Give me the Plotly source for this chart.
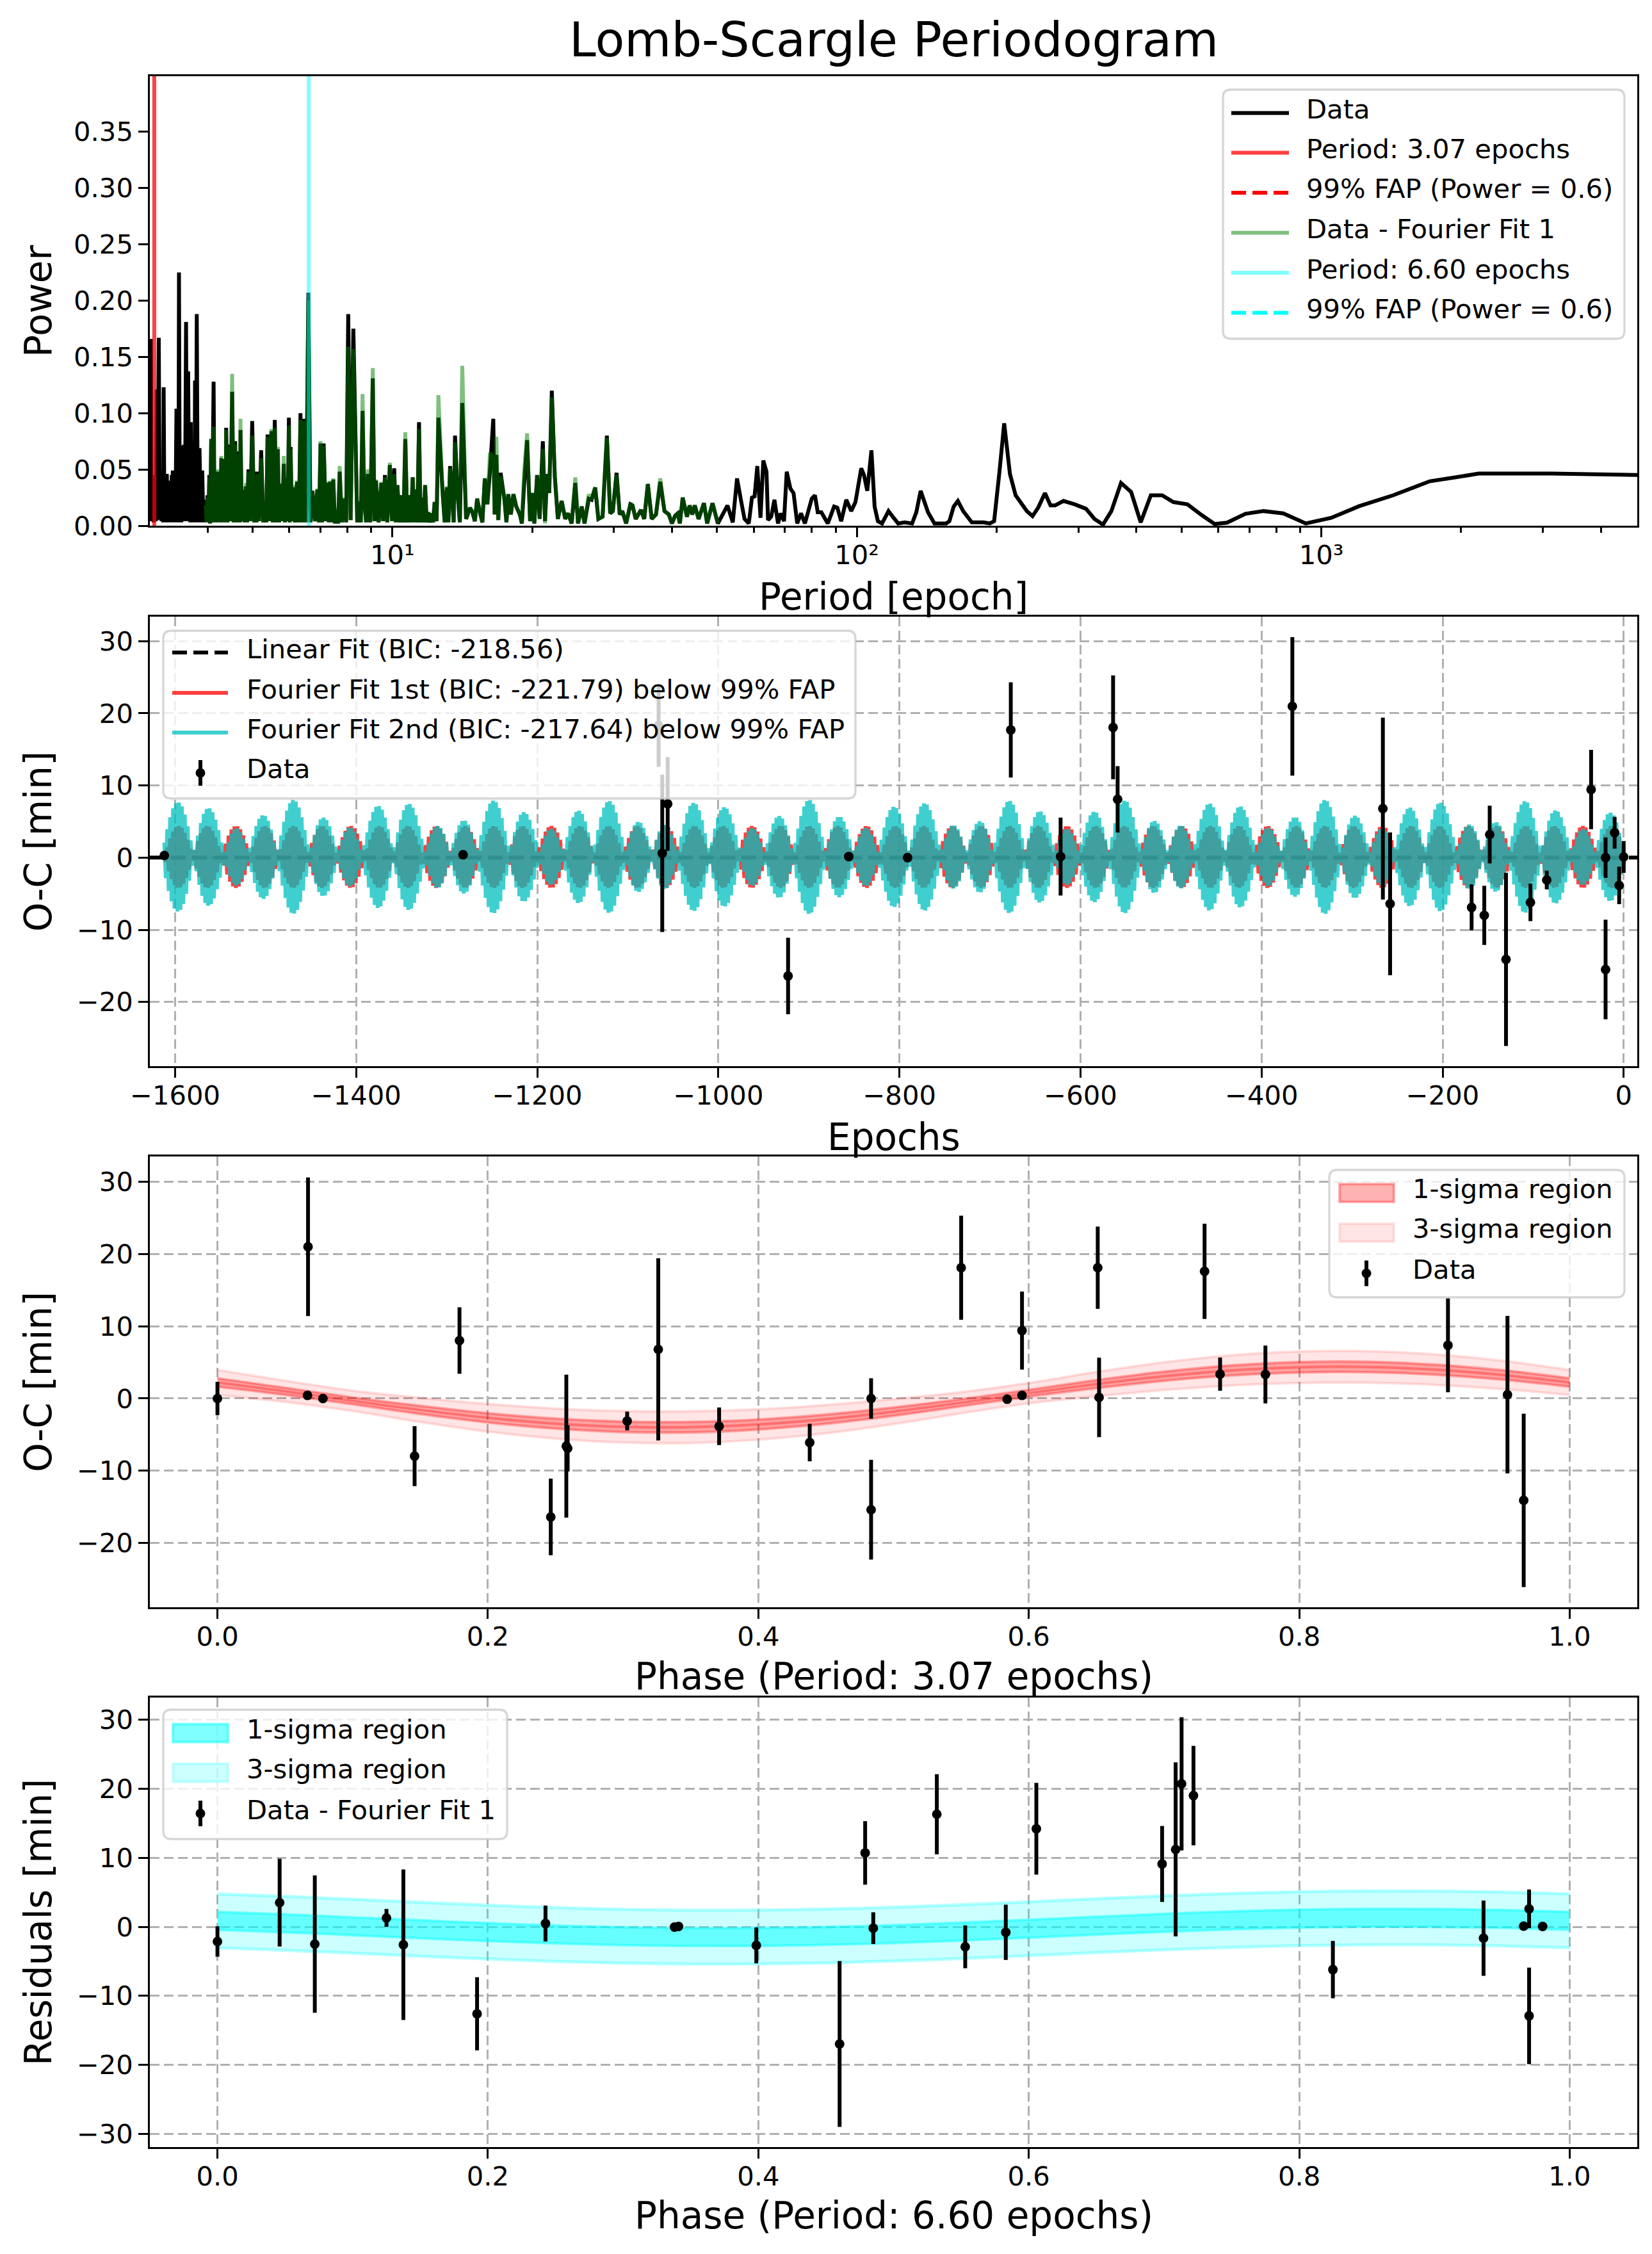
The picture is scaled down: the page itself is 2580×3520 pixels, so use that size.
import numpy as np
import plotly.graph_objects as go

# ---------------------------------------------------------------- data
# Panel 1: Lomb-Scargle periodogram of the O-C data (black, "Data")
ls_period_a = [3.004, 3.010, 3.020, 3.030, 3.045, 3.061, 3.080, 3.095, 3.107, 3.120,
               3.140, 3.155, 3.170, 3.183, 3.200, 3.210, 3.217, 3.230, 3.245, 3.255,
               3.268, 3.280, 3.295, 3.305, 3.320, 3.335, 3.350, 3.358, 3.366, 3.380,
               3.395, 3.410, 3.428, 3.440, 3.452, 3.462, 3.471, 3.485, 3.500, 3.512,
               3.527, 3.540, 3.557, 3.575, 3.595, 3.612, 3.633, 3.650, 3.665, 3.672,
               3.680, 3.695, 3.711, 3.725, 3.743, 3.750, 3.758, 3.775, 3.791, 3.810,
               3.825, 3.833, 3.843, 3.870, 3.880, 3.888, 3.896, 3.915, 3.934, 3.950]
ls_power_a = [0.050, 0.004, 0.166, 0.010, 0.040, 0.003, 0.045, 0.004, 0.121, 0.005,
              0.167, 0.006, 0.050, 0.004, 0.045, 0.003, 0.123, 0.004, 0.040, 0.003,
              0.046, 0.004, 0.038, 0.003, 0.040, 0.004, 0.045, 0.003, 0.049, 0.004,
              0.042, 0.003, 0.104, 0.004, 0.050, 0.003, 0.225, 0.004, 0.060, 0.003,
              0.071, 0.004, 0.072, 0.004, 0.181, 0.004, 0.137, 0.004, 0.065, 0.003,
              0.092, 0.004, 0.030, 0.003, 0.048, 0.004, 0.129, 0.003, 0.188, 0.004,
              0.050, 0.003, 0.069, 0.004, 0.040, 0.003, 0.049, 0.004, 0.023, 0.003]

# periods shared by both periodograms (Data and Data - Fourier Fit 1)
shared_period = [3.963, 3.980, 3.997, 4.015, 4.035, 4.050, 4.073, 4.090, 4.121, 4.140,
                 4.160, 4.180, 4.205, 4.225, 4.250, 4.265, 4.281, 4.300, 4.326, 4.345,
                 4.365, 4.375, 4.386, 4.415, 4.452, 4.480, 4.518, 4.550, 4.586, 4.605,
                 4.634, 4.655, 4.680, 4.695, 4.709, 4.740, 4.784, 4.810, 4.840, 4.865,
                 4.897, 4.940, 4.990, 5.040, 5.080, 5.095, 5.113, 5.160, 5.217, 5.270,
                 5.318, 5.350, 5.385, 5.430, 5.489, 5.530, 5.582, 5.620, 5.666, 5.700,
                 5.738, 5.790, 5.836, 5.870, 5.910, 5.950, 5.986, 6.010, 6.036, 6.075,
                 6.113, 6.170, 6.231, 6.290, 6.339, 6.400, 6.454, 6.520, 6.592, 6.660,
                 6.726, 6.810, 6.892, 6.950, 7.002, 7.055, 7.112, 7.190, 7.264, 7.300,
                 7.342, 7.400, 7.459, 7.520, 7.579, 7.640, 7.700, 7.780, 7.865, 7.950,
                 8.033, 8.130, 8.240, 8.337, 8.400, 8.471, 8.550, 8.624, 8.698, 8.780,
                 8.856, 8.960, 9.073, 9.150, 9.218, 9.340, 9.465, 9.550, 9.636, 9.750,
                 9.874, 9.980, 10.09, 10.17, 10.25, 10.36, 10.47, 10.56, 10.66, 10.76,
                 10.86, 10.96, 11.06, 11.13, 11.21, 11.31, 11.41, 11.50, 11.61, 11.68,
                 11.76, 11.85, 11.95, 12.04, 12.14, 12.23, 12.33, 12.45, 12.56, 12.82,
                 12.96, 13.10, 13.20, 13.31, 13.45, 13.55, 13.64, 13.81, 13.97, 14.14,
                 14.41, 14.69, 14.87, 15.05, 15.22, 15.43, 15.62, 15.81, 16.01, 16.22,
                 16.49, 16.60, 16.74, 16.90, 17.10, 17.43, 17.60, 17.76, 17.99, 18.22,
                 18.48, 18.81, 19.00, 19.21, 19.50, 19.79, 20.04, 20.21, 20.49, 20.75,
                 21.08, 21.31, 21.53, 21.76, 22.04, 22.37, 22.71, 23.14, 23.56, 23.89,
                 24.32, 24.76, 25.10, 25.56, 25.92, 26.47, 26.84, 27.33, 27.76, 28.35,
                 28.96, 29.43, 29.83, 30.38, 30.86, 31.26, 31.86, 32.54, 32.88, 33.41,
                 34.30, 34.85, 35.48, 36.16, 36.94, 37.73, 38.53, 39.36, 39.99, 40.63,
                 41.15, 41.59, 42.17, 43.07, 43.65, 44.21, 44.78, 45.63, 46.86, 47.61,
                 48.89, 50.20]
ls_power_b = [0.020, 0.003, 0.027, 0.003, 0.045, 0.002, 0.077, 0.003, 0.128, 0.003,
              0.035, 0.003, 0.048, 0.004, 0.040, 0.003, 0.060, 0.004, 0.059, 0.003,
              0.030, 0.003, 0.087, 0.003, 0.072, 0.004, 0.119, 0.003, 0.075, 0.003,
              0.066, 0.004, 0.035, 0.003, 0.085, 0.004, 0.032, 0.003, 0.035, 0.003,
              0.050, 0.004, 0.093, 0.003, 0.030, 0.003, 0.048, 0.004, 0.067, 0.003,
              0.018, 0.003, 0.081, 0.004, 0.084, 0.003, 0.094, 0.003, 0.068, 0.003,
              0.037, 0.004, 0.055, 0.003, 0.042, 0.004, 0.096, 0.003, 0.070, 0.004,
              0.034, 0.003, 0.039, 0.003, 0.100, 0.003, 0.095, 0.003, 0.207, 0.003,
              0.031, 0.004, 0.032, 0.003, 0.073, 0.003, 0.073, 0.004, 0.038, 0.003,
              0.039, 0.003, 0.041, 0.002, 0.014, 0.002, 0.048, 0.003, 0.024, 0.003,
              0.188, 0.005, 0.175, 0.070, 0.003, 0.021, 0.003, 0.102, 0.021, 0.003,
              0.046, 0.003, 0.131, 0.004, 0.040, 0.003, 0.038, 0.004, 0.045, 0.003,
              0.054, 0.004, 0.051, 0.003, 0.036, 0.003, 0.027, 0.003, 0.077, 0.003,
              0.027, 0.003, 0.043, 0.003, 0.032, 0.003, 0.092, 0.003, 0.025, 0.003,
              0.036, 0.003, 0.012, 0.003, 0.011, 0.003, 0.021, 0.004, 0.096, 0.031,
              0.003, 0.034, 0.003, 0.053, 0.024, 0.003, 0.080, 0.029, 0.003, 0.109,
              0.006, 0.016, 0.012, 0.004, 0.024, 0.012, 0.003, 0.042, 0.019, 0.049,
              0.095, 0.010, 0.063, 0.005, 0.047, 0.023, 0.003, 0.028, 0.010, 0.028,
              0.017, 0.010, 0.002, 0.036, 0.076, 0.004, 0.029, 0.002, 0.045, 0.006,
              0.075, 0.004, 0.046, 0.029, 0.120, 0.044, 0.006, 0.022, 0.006, 0.011,
              0.002, 0.038, 0.002, 0.017, 0.002, 0.024, 0.023, 0.034, 0.006, 0.008,
              0.080, 0.011, 0.013, 0.047, 0.010, 0.013, 0.002, 0.019, 0.018, 0.006,
              0.014, 0.006, 0.037, 0.006, 0.010, 0.039, 0.013, 0.010, 0.002, 0.009,
              0.011, 0.002, 0.025, 0.008, 0.018, 0.010, 0.018, 0.006, 0.020, 0.002,
              0.020, 0.002]
# residual periodogram (Data - Fourier Fit 1) on the shared periods
res_power = [0.018, 0.003, 0.025, 0.003, 0.042, 0.002, 0.077, 0.003, 0.088, 0.003,
             0.037, 0.003, 0.050, 0.004, 0.045, 0.003, 0.062, 0.004, 0.058, 0.003,
             0.030, 0.003, 0.085, 0.003, 0.070, 0.004, 0.135, 0.003, 0.072, 0.003,
             0.064, 0.004, 0.038, 0.003, 0.095, 0.004, 0.035, 0.003, 0.038, 0.003,
             0.048, 0.004, 0.080, 0.003, 0.032, 0.003, 0.046, 0.004, 0.060, 0.003,
             0.020, 0.003, 0.079, 0.004, 0.086, 0.003, 0.087, 0.003, 0.070, 0.003,
             0.038, 0.004, 0.062, 0.003, 0.043, 0.004, 0.089, 0.003, 0.068, 0.004,
             0.036, 0.003, 0.040, 0.003, 0.094, 0.003, 0.093, 0.003, 0.200, 0.003,
             0.031, 0.004, 0.033, 0.003, 0.075, 0.003, 0.071, 0.004, 0.039, 0.003,
             0.040, 0.003, 0.042, 0.002, 0.015, 0.002, 0.053, 0.003, 0.025, 0.003,
             0.159, 0.005, 0.157, 0.066, 0.003, 0.022, 0.003, 0.117, 0.022, 0.003,
             0.050, 0.003, 0.140, 0.004, 0.041, 0.003, 0.039, 0.004, 0.043, 0.003,
             0.056, 0.004, 0.046, 0.003, 0.036, 0.003, 0.027, 0.003, 0.083, 0.003,
             0.027, 0.003, 0.043, 0.003, 0.032, 0.003, 0.086, 0.003, 0.025, 0.003,
             0.036, 0.003, 0.012, 0.003, 0.011, 0.003, 0.021, 0.004, 0.116, 0.031,
             0.003, 0.035, 0.003, 0.051, 0.024, 0.003, 0.074, 0.029, 0.003, 0.142,
             0.006, 0.016, 0.012, 0.004, 0.024, 0.012, 0.003, 0.042, 0.019, 0.065,
             0.060, 0.010, 0.079, 0.005, 0.044, 0.023, 0.003, 0.028, 0.010, 0.028,
             0.017, 0.010, 0.002, 0.048, 0.082, 0.004, 0.029, 0.002, 0.045, 0.006,
             0.068, 0.002, 0.046, 0.029, 0.114, 0.044, 0.006, 0.022, 0.006, 0.011,
             0.002, 0.043, 0.002, 0.017, 0.002, 0.028, 0.023, 0.034, 0.006, 0.008,
             0.078, 0.011, 0.013, 0.045, 0.010, 0.013, 0.002, 0.020, 0.018, 0.006,
             0.014, 0.006, 0.037, 0.006, 0.010, 0.042, 0.013, 0.010, 0.002, 0.009,
             0.011, 0.002, 0.025, 0.008, 0.018, 0.010, 0.018, 0.006, 0.020, 0.002,
             0.020, 0.002]

ls_period_c = [52.65, 54.06, 55.21, 56.39, 57.30, 58.52, 59.45, 60.22, 61.05, 62.02,
               62.89, 63.89, 64.37, 65.40, 66.45, 67.65, 68.59, 69.69, 70.63, 71.92,
               73.07, 74.40, 75.83, 77.30, 79.96, 81.24, 82.37, 83.86, 86.57, 89.34,
               90.78, 92.53, 94.90, 97.23, 99.31, 102.2, 103.6, 105.3, 107.5, 109.2,
               111.0, 113.3, 117.0, 119.5, 122.7, 126.7, 131.5, 134.3, 137.2, 142.3,
               146.9, 155.7, 158.2, 161.6, 165.0, 169.4, 176.8, 187.4, 193.4, 197.5,
               202.8, 207.6, 213.6, 219.7, 232.3, 238.9, 245.7, 254.1, 261.2, 267.2,
               278.6, 294.6, 311.5, 324.9, 338.8, 353.2, 370.5, 389.5, 408.5, 429.5,
               454.2, 480.3, 515.0, 552.4, 589.0, 626.4, 686.8, 751.2, 828.0, 926.2,
               1050.3, 1207.2, 1427.7, 1712.4, 1941.6, 2183.1, 3121.6, 4814.0]
ls_power_c = [0.018, 0.003, 0.042, 0.021, 0.006, 0.002, 0.025, 0.026, 0.053, 0.007,
              0.058, 0.048, 0.005, 0.008, 0.023, 0.002, 0.011, 0.004, 0.048, 0.033,
              0.029, 0.002, 0.011, 0.002, 0.024, 0.027, 0.012, 0.012, 0.002, 0.017,
              0.016, 0.004, 0.023, 0.013, 0.021, 0.051, 0.045, 0.031, 0.067, 0.017,
              0.004, 0.002, 0.013, 0.008, 0.002, 0.003, 0.002, 0.012, 0.031, 0.012,
              0.002, 0.002, 0.004, 0.017, 0.022, 0.013, 0.003, 0.003, 0.002, 0.004,
              0.048, 0.091, 0.046, 0.027, 0.013, 0.0085, 0.016, 0.029, 0.018, 0.018,
              0.022, 0.019, 0.015, 0.006, 0.001, 0.013, 0.038, 0.030, 0.003, 0.027,
              0.027, 0.021, 0.019, 0.0095, 0.0016, 0.0027, 0.0106, 0.013, 0.011, 0.002,
              0.007, 0.0174, 0.027, 0.0395, 0.0429, 0.0464, 0.0464, 0.045]

log_tick_vals = [10, 100, 1000]
log_tick_text = ["10\u00b9", "10\u00b2", "10\u00b3"]

best_period_1 = 3.0707
best_period_2 = 6.6045
fap_99_power = 0.6

# Panel 2: O-C data
epochs = [-1612, -1282, -1066, -1062, -1056, -923, -856, -791, -677, -622,
          -564, -559, -366, -266, -258, -168, -154, -148, -130, -103,
          -85, -36, -20, -20, -10, -5, 0]
oc = [0.3, 0.4, 18.3, 0.6, 7.45, -16.4, 0.15, 0.0, 17.7, 0.15,
      18.05, 8.08, 20.97, 6.8, -6.4, -6.9, -8.0, 3.2, -14.1, -6.2,
      -3.1, 9.44, -15.5, 0.0, 3.45, -3.85, 0.1]
oc_err = [0.5, 0.5, 5.7, 10.9, 6.5, 5.3, 0.5, 0.5, 6.6, 5.4,
          7.2, 4.6, 9.6, 12.6, 9.9, 3.2, 4.1, 4.0, 12.0, 2.6,
          1.3, 5.5, 6.9, 2.8, 2.2, 2.6, 2.2]

# fitted model parameters
linear_slope = 0.0
linear_intercept = 0.0
fit1_offset = 0.1
fit1_amp = 4.3
fit1_phase = 0.2883
fit2_amp1 = 5.9
fit2_amp_harm2 = 2.0
fit2_phase_harm2 = 0.8308
n_model = 1000

# Panel 3: O-C folded on 3.07 epochs
phase1 = [0.0, 0.067, 0.0666, 0.078, 0.1458, 0.179, 0.2465, 0.258, 0.259, 0.303,
          0.326, 0.371, 0.438, 0.4834, 0.4834, 0.550, 0.584, 0.595, 0.595, 0.651,
          0.652, 0.730, 0.7415, 0.775, 0.910, 0.954, 0.966]
oc1 = [0.0, 21.0, 0.43, 0.0, -7.98, 8.02, -16.4, -6.6, -6.9, -3.12,
       6.8, -3.85, -6.1, 0.0, -15.4, 18.1, -0.1, 0.43, 9.4, 18.1,
       0.15, 17.6, 3.37, 3.32, 7.36, 0.53, -14.1]
oc1_err = [2.3, 9.6, 0.5, 0.5, 4.15, 4.6, 5.3, 9.9, 3.2, 1.3,
           12.6, 2.6, 2.6, 2.8, 6.9, 7.2, 0.5, 0.5, 5.4, 5.7,
           5.5, 6.6, 2.3, 4.0, 6.5, 10.9, 12.0]

model_phase = [0.0, 0.05, 0.10, 0.15, 0.20, 0.25, 0.30, 0.35, 0.40, 0.45, 0.50,
               0.55, 0.60, 0.65, 0.70, 0.75, 0.80, 0.85, 0.90, 0.95, 1.0]
fit1_center = [2.22, 0.99, -0.33, -1.59, -2.68, -3.48, -3.92, -3.97, -3.60, -2.86, -1.82,
               -0.59, 0.73, 1.99, 3.08, 3.88, 4.32, 4.37, 4.00, 3.26, 2.22]
fit1_sig1 = [0.58, 0.49, 0.47, 0.56, 0.64, 0.70, 0.73, 0.73, 0.70, 0.65, 0.58,
             0.49, 0.47, 0.56, 0.64, 0.70, 0.73, 0.73, 0.70, 0.65, 0.58]
fit1_sig3 = [1.73, 1.47, 1.41, 1.68, 1.92, 2.09, 2.18, 2.19, 2.11, 1.96, 1.73,
             1.47, 1.41, 1.68, 1.92, 2.09, 2.18, 2.19, 2.11, 1.96, 1.73]

# Panel 4: residuals folded on 6.60 epochs
phase2 = [0.0, 0.046, 0.072, 0.125, 0.1375, 0.192, 0.2426, 0.338, 0.341, 0.3985,
          0.4601, 0.479, 0.485, 0.532, 0.553, 0.583, 0.6056, 0.6986, 0.7086, 0.713,
          0.7218, 0.8249, 0.9363, 0.966, 0.970, 0.970, 0.980]
resid = [-2.13, 3.5, -2.5, 1.28, -2.6, -12.6, 0.48, -0.05, 0.05, -2.7,
         -16.97, 10.7, -0.2, 16.3, -2.9, -0.8, 14.2, 9.1, 11.2, 20.7,
         19.0, -6.2, -1.65, 0.1, 2.6, -12.9, 0.05]
resid_err = [2.2, 6.35, 9.95, 1.3, 10.9, 5.3, 2.6, 0.5, 0.5, 2.6,
             12.0, 4.6, 2.3, 5.8, 3.1, 4.0, 6.65, 5.5, 12.6, 9.65,
             7.2, 4.15, 5.45, 0.5, 2.8, 7.0, 0.5]
fit2_center = [0.86, 0.50, 0.08, -0.36, -0.77, -1.12, -1.37, -1.49, -1.47, -1.33, -1.06,
               -0.70, -0.28, 0.16, 0.57, 0.92, 1.17, 1.29, 1.27, 1.13, 0.86]
fit2_sig1 = [1.3] * 21
fit2_sig3 = [3.9] * 21

# ---------------------------------------------------------------- geometry
W, H = 2580, 3520
L, R, T, B = 226, 2549, 111, 3345
PW, PH = R - L, B - T
FONT = "DejaVu Sans"
TICK = 41.7
LAB = 58


def px(X):
    return (X - L) / PW


def py(Y):
    return (B - Y) / PH


fig = go.Figure()

# ---------------------------------------------------------------- panel 1
ls_period = ls_period_a + shared_period + ls_period_c
ls_power = ls_power_a + ls_power_b + ls_power_c
fig.add_trace(go.Scatter(x=ls_period, y=ls_power, mode="lines", name="Data",
                         line=dict(color="black", width=6, simplify=False),
                         xaxis="x", yaxis="y"))
fig.add_trace(go.Scatter(x=[best_period_1, best_period_1], y=[0, 1], mode="lines",
                         line=dict(color="rgba(255,0,0,0.75)", width=6),
                         xaxis="x", yaxis="y"))
fig.add_trace(go.Scatter(x=[ls_period[0], ls_period[-1]], y=[fap_99_power] * 2, mode="lines",
                         line=dict(color="red", width=6, dash="23px,10px"),
                         xaxis="x", yaxis="y"))
fig.add_trace(go.Scatter(x=shared_period, y=res_power, mode="lines",
                         line=dict(color="rgba(0,128,0,0.5)", width=6, simplify=False),
                         xaxis="x", yaxis="y"))
fig.add_trace(go.Scatter(x=[best_period_2, best_period_2], y=[0, 1], mode="lines",
                         line=dict(color="rgba(0,255,255,0.5)", width=6),
                         xaxis="x", yaxis="y"))
fig.add_trace(go.Scatter(x=[ls_period[0], ls_period[-1]], y=[fap_99_power] * 2, mode="lines",
                         line=dict(color="cyan", width=6, dash="23px,10px"),
                         xaxis="x", yaxis="y"))

# ---------------------------------------------------------------- panel 2
x2_range = [-1628, 15]
ep = np.array(epochs, dtype=float)
lin_x = np.array(x2_range, dtype=float)
fig.add_trace(go.Scatter(x=lin_x, y=linear_slope * lin_x + linear_intercept, mode="lines",
                         line=dict(color="black", width=6, dash="23px,10px"),
                         xaxis="x2", yaxis="y2"))
xm = np.linspace(ep.min(), ep.max(), n_model)
m1 = fit1_offset + fit1_amp * np.cos(2 * np.pi * (xm / best_period_1 - fit1_phase))
m2 = (fit1_offset + fit2_amp1 * np.cos(2 * np.pi * (xm / best_period_1 - fit1_phase))
      + fit2_amp_harm2 * np.cos(2 * np.pi * (2 * xm / best_period_2 - fit2_phase_harm2)))
fig.add_trace(go.Scatter(x=xm, y=m1, mode="lines",
                         line=dict(color="rgba(255,0,0,0.75)", width=6, simplify=False),
                         xaxis="x2", yaxis="y2"))
fig.add_trace(go.Scatter(x=xm, y=m2, mode="lines",
                         line=dict(color="rgba(0,191,191,0.75)", width=6, simplify=False),
                         xaxis="x2", yaxis="y2"))
fig.add_trace(go.Scatter(x=epochs, y=oc, mode="markers",
                         marker=dict(color="black", size=15),
                         error_y=dict(type="data", array=oc_err, visible=True,
                                      thickness=6, width=0, color="black"),
                         xaxis="x2", yaxis="y2"))


# ---------------------------------------------------------------- bands
def band(phase, center, half, fill, edge, ew, xa, ya):
    up = [c + h for c, h in zip(center, half)]
    lo = [c - h for c, h in zip(center, half)]
    ln = dict(color=edge, width=ew, shape="spline", smoothing=0.8)
    fig.add_trace(go.Scatter(x=phase, y=lo, mode="lines", line=ln, xaxis=xa, yaxis=ya))
    fig.add_trace(go.Scatter(x=phase, y=up, mode="lines", line=ln, fill="tonexty",
                             fillcolor=fill, xaxis=xa, yaxis=ya))


band(model_phase, fit1_center, fit1_sig3, "rgba(255,0,0,0.1)", "rgba(255,0,0,0.12)", 4, "x3", "y3")
band(model_phase, fit1_center, fit1_sig1, "rgba(255,0,0,0.3)", "rgba(255,0,0,0.3)", 4, "x3", "y3")
fig.add_trace(go.Scatter(x=model_phase, y=fit1_center, mode="lines",
                         line=dict(color="rgba(255,0,0,0.3)", width=4, shape="spline", smoothing=0.8),
                         xaxis="x3", yaxis="y3"))
fig.add_trace(go.Scatter(x=phase1, y=oc1, mode="markers",
                         marker=dict(color="black", size=15),
                         error_y=dict(type="data", array=oc1_err, visible=True,
                                      thickness=6, width=0, color="black"),
                         xaxis="x3", yaxis="y3"))

band(model_phase, fit2_center, fit2_sig3, "rgba(0,255,255,0.2)", "rgba(0,255,255,0.28)", 5, "x4", "y4")
band(model_phase, fit2_center, fit2_sig1, "rgba(0,255,255,0.5)", "rgba(0,255,255,0.45)", 4, "x4", "y4")
fig.add_trace(go.Scatter(x=phase2, y=resid, mode="markers",
                         marker=dict(color="black", size=15),
                         error_y=dict(type="data", array=resid_err, visible=True,
                                      thickness=6, width=0, color="black"),
                         xaxis="x4", yaxis="y4"))


# ---------------------------------------------------------------- axes
def axis(**kw):
    d = dict(showline=True, linecolor="black", linewidth=3.3, mirror=True,
             ticks="outside", ticklen=14.6, tickwidth=3.3, tickcolor="black",
             tickfont=dict(size=TICK, family=FONT, color="black"),
             zeroline=False, showgrid=False)
    d.update(kw)
    return d


grid = dict(showgrid=True, gridcolor="#b0b0b0", gridwidth=3, griddash="15px,7px")
XSTAND = -8

layout_axes = dict(
    xaxis=axis(type="log", range=[np.log10(3.004), np.log10(4790)], anchor="y",
               tickmode="array", tickvals=log_tick_vals, ticktext=log_tick_text,
               ticklabelstandoff=XSTAND,
               minor=dict(ticks="outside", ticklen=8.3, tickwidth=2.5, tickcolor="black",
                          tickmode="array",
                          tickvals=[4, 5, 6, 7, 8, 9, 20, 30, 40, 50, 60, 70, 80, 90,
                                    200, 300, 400, 500, 600, 700, 800, 900, 2000, 3000, 4000])),
    yaxis=axis(domain=[py(813), 1], range=[0, 0.3993], anchor="x",
               tickmode="linear", tick0=0, dtick=0.05, tickformat=".2f"),
    xaxis2=axis(range=x2_range, anchor="y2", tickmode="linear", tick0=0, dtick=200,
                ticklabelstandoff=XSTAND, **grid),
    yaxis2=axis(domain=[py(1657), py(955)], range=[-28.9, 33.4], anchor="x2",
                tickmode="linear", tick0=0, dtick=10, **grid),
    xaxis3=axis(range=[-0.05, 1.05], anchor="y3", tickmode="linear", tick0=0, dtick=0.2,
                tickformat=".1f", ticklabelstandoff=XSTAND, **grid),
    yaxis3=axis(domain=[py(2502), py(1798)], range=[-28.9, 33.5], anchor="x3",
                tickmode="linear", tick0=0, dtick=10, **grid),
    xaxis4=axis(range=[-0.05, 1.05], anchor="y4", tickmode="linear", tick0=0, dtick=0.2,
                tickformat=".1f", ticklabelstandoff=XSTAND, **grid),
    yaxis4=axis(domain=[0, py(2643)], range=[-31.9, 33.2], anchor="x4",
                tickmode="linear", tick0=0, dtick=10, **grid),
)

# ---------------------------------------------------------------- titles and legends
shapes = []
annotations = []


def text(s, x, y, size, xanchor="center", angle=0):
    annotations.append(dict(text=s, x=px(x), y=py(y - 6), xref="paper", yref="paper",
                            xanchor=xanchor, yanchor="middle", showarrow=False,
                            textangle=angle,
                            font=dict(size=size, family=FONT, color="black")))


def rrect(x0, y0, x1, y1, r=12):
    X, Y = px, py
    p = (f"M{X(x0 + r)},{Y(y0)} L{X(x1 - r)},{Y(y0)} Q{X(x1)},{Y(y0)} {X(x1)},{Y(y0 + r)} "
         f"L{X(x1)},{Y(y1 - r)} Q{X(x1)},{Y(y1)} {X(x1 - r)},{Y(y1)} "
         f"L{X(x0 + r)},{Y(y1)} Q{X(x0)},{Y(y1)} {X(x0)},{Y(y1 - r)} "
         f"L{X(x0)},{Y(y0 + r)} Q{X(x0)},{Y(y0)} {X(x0 + r)},{Y(y0)} Z")
    shapes.append(dict(type="path", path=p, xref="paper", yref="paper", layer="above",
                       fillcolor="rgba(255,255,255,0.8)",
                       line=dict(color="rgba(204,204,204,0.8)", width=3.3)))


def hline(x0, x1, y, color, dash="solid"):
    shapes.append(dict(type="line", x0=px(x0), x1=px(x1), y0=py(y), y1=py(y),
                       xref="paper", yref="paper", layer="above",
                       line=dict(color=color, width=6, dash=dash)))


def patch(x0, x1, y, fill, edge):
    shapes.append(dict(type="rect", x0=px(x0), x1=px(x1), y0=py(y + 14), y1=py(y - 14),
                       xref="paper", yref="paper", layer="above", fillcolor=fill,
                       line=dict(color=edge, width=4)))


def errhandle(cx, cy):
    shapes.append(dict(type="line", x0=px(cx), x1=px(cx), y0=py(cy + 20), y1=py(cy - 20),
                       xref="paper", yref="paper", layer="above",
                       line=dict(color="black", width=6)))
    shapes.append(dict(type="circle", x0=px(cx - 7.5), x1=px(cx + 7.5),
                       y0=py(cy + 7.5), y1=py(cy - 7.5), xref="paper", yref="paper",
                       layer="above", fillcolor="black", line=dict(width=0)))


# title + axis labels
text("Lomb-Scargle Periodogram", (L + R) / 2, 60, 75)
text("Power", 52, 468, LAB, angle=-90)
text("Period [epoch]", (L + R) / 2, 930, LAB)
text("O-C [min]", 52, 1312, LAB, angle=-90)
text("Epochs", (L + R) / 2, 1774, LAB)
text("O-C [min]", 52, 2156, LAB, angle=-90)
text(f"Phase (Period: {best_period_1:.2f} epochs)", (L + R) / 2, 2616, LAB)
text("Residuals [min]", 52, 3000, LAB, angle=-90)
text(f"Phase (Period: {best_period_2:.2f} epochs)", (L + R) / 2, 3458, LAB)

# legend 1
TX = -6
rrect(1902, 132, 2529, 521)
leg1 = [("Data", "black", "solid"),
        (f"Period: {best_period_1:.2f} epochs", "rgba(255,0,0,0.75)", "solid"),
        (f"99% FAP (Power = {fap_99_power})", "red", "23px,10px"),
        ("Data - Fourier Fit 1", "rgba(0,128,0,0.5)", "solid"),
        (f"Period: {best_period_2:.2f} epochs", "rgba(0,255,255,0.5)", "solid"),
        (f"99% FAP (Power = {fap_99_power})", "cyan", "23px,10px")]
for (lab, col, dsh), yy in zip(leg1, [168.5, 230.5, 293, 355.5, 418, 480.5]):
    hline(1915, 2005, yy, col, dsh)
    text(lab, 2036 + TX, yy, TICK, xanchor="left")

# legend 2
rrect(247, 977, 1328, 1239)
hline(261, 348, 1011, "black", "23px,10px")
text("Linear Fit (BIC: -218.56)", 381 + TX, 1011, TICK, xanchor="left")
hline(261, 348, 1074, "rgba(255,0,0,0.75)")
text("Fourier Fit 1st (BIC: -221.79) below 99% FAP", 381 + TX, 1074, TICK, xanchor="left")
hline(261, 348, 1136, "rgba(0,191,191,0.75)")
text("Fourier Fit 2nd (BIC: -217.64) below 99% FAP", 381 + TX, 1136, TICK, xanchor="left")
errhandle(305, 1199)
text("Data", 381 + TX, 1199, TICK, xanchor="left")

# legend 3
rrect(2068, 1819, 2529, 2018)
patch(2084, 2169, 1855, "rgba(255,0,0,0.3)", "rgba(255,0,0,0.3)")
text("1-sigma region", 2202 + TX, 1855, TICK, xanchor="left")
patch(2084, 2169, 1917, "rgba(255,0,0,0.1)", "rgba(255,0,0,0.1)")
text("3-sigma region", 2202 + TX, 1917, TICK, xanchor="left")
errhandle(2126, 1980.5)
text("Data", 2202 + TX, 1980.5, TICK, xanchor="left")

# legend 4
rrect(247, 2662, 784, 2864)
patch(262, 348, 2698.5, "rgba(0,255,255,0.5)", "rgba(0,255,255,0.5)")
text("1-sigma region", 381 + TX, 2698.5, TICK, xanchor="left")
patch(262, 348, 2760.5, "rgba(0,255,255,0.2)", "rgba(0,255,255,0.2)")
text("3-sigma region", 381 + TX, 2760.5, TICK, xanchor="left")
errhandle(305, 2824)
text("Data - Fourier Fit 1", 381 + TX, 2824, TICK, xanchor="left")

fig.update_layout(
    width=W, height=H,
    margin=dict(l=L, r=W - R, t=T, b=H - B, pad=0),
    paper_bgcolor="white", plot_bgcolor="white",
    font=dict(family=FONT, color="black", size=TICK),
    showlegend=False, hovermode=False,
    shapes=shapes, annotations=annotations,
    **layout_axes,
)

fig.write_html("out.html", include_plotlyjs=True, config={"displayModeBar": False})
